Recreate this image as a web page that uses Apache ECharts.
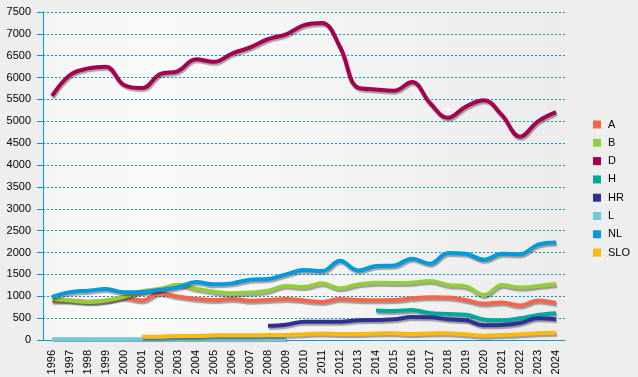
<!DOCTYPE html>
<html>
<head>
<meta charset="utf-8">
<script src="https://cdn.jsdelivr.net/npm/echarts@6/dist/echarts.min.js"></script>
<style>
  html, body { margin: 0; padding: 0; background: #eeeeee; overflow: hidden; }
  #chart { width: 638px; height: 400px; }
</style>
</head>
<body>
<div id="chart"></div>
<script>
var years = ['1996','1997','1998','1999','2000','2001','2002','2003','2004','2005','2006','2007','2008','2009','2010',
  '2011','2012','2013','2014','2015','2016','2017','2018','2019','2020','2021','2022','2023','2024']
var seriesNames = ['A', 'B', 'D', 'H', 'HR', 'L', 'NL', 'SLO']
var colors = ['#f5654a', '#93cd3e', '#a4004f', '#00a99a', '#2e3192', '#72c7dc', '#0099dc', '#fcb814']

var dataA = [900, 905, 876, 895, 960, 905, 1067, 995, 940, 914, 940, 900, 914, 935, 905,
  870, 935, 914, 910, 914, 952, 975, 970, 914, 830, 857, 790, 905, 845]
var dataB = [935, 905, 870, 905, 990, 1115, 1170, 1265, 1170, 1105, 1067, 1085, 1125, 1240, 1210,
  1295, 1181, 1272, 1311, 1305, 1311, 1349, 1257, 1225, 1029, 1257, 1200, 1235, 1280]
var dataD = [5580, 6060, 6210, 6250, 5830, 5760, 6080, 6150, 6420, 6360, 6550, 6690, 6880, 6990, 7200,
  7250, 6700, 5770, 5730, 5700, 5900, 5420, 5080, 5340, 5480, 5140, 4650, 5000, 5210]
var dataH = [null, null, null, null, null, null, null, null, null, null, null, null, null, null, null,
  null, null, null, 675, 665, 685, 615, 594, 575, 470, 450, 495, 571, 610]
var dataHR = [null, null, null, null, null, null, null, null, null, null, null, null, 325, 350, 420,
  419, 419, 450, 457, 472, 525, 518, 472, 450, 335, 343, 390, 495, 476]
var dataL = [15, 15, 15, 15, 15, 15, 15, 15, 15, 15, 15, 15, 15, 15, null,
  null, null, null, null, null, null, null, null, null, null, null, null, null, null]
var dataNL = [985, 1095, 1128, 1166, 1090, 1095, 1150, 1205, 1325, 1272, 1295, 1380, 1395, 1500, 1600,
  1575, 1810, 1590, 1692, 1705, 1860, 1745, 1990, 1970, 1835, 1970, 1962, 2180, 2230]
var dataSLO = [null, null, null, null, null, 76, 76, 91, 91, 107, 107, 107, 114, 114, 132,
  150, 137, 137, 150, 152, 137, 150, 152, 130, 99, 114, 130, 152, 168]
var yTicks = { min: 0, max: 7500, interval: 500 }

var allData = [dataA, dataB, dataD, dataH, dataHR, dataL, dataNL, dataSLO]
var axisBlue = '#0a97d9'
var font = 'Arial'

// container is a bit taller than the window so the rotated year labels never touch the edge
var chart = echarts.init(document.getElementById('chart'), null, { renderer: 'canvas' })

var series = seriesNames.map(function (name, i) {
  return {
    name: name,
    type: 'line',
    data: allData[i],
    smooth: 0.4,
    symbol: 'none',
    connectNulls: false,
    lineStyle: {
      width: 4,
      color: colors[i],
      shadowColor: 'rgba(0,0,0,0.35)',
      shadowBlur: 1,
      shadowOffsetX: 1,
      shadowOffsetY: 2
    },
    itemStyle: { color: colors[i] }
  }
})

var option = {
  backgroundColor: '#eeeeee',
  animation: false,
  color: colors,
  grid: {
    left: 43,
    right: 73,
    top: 12,
    bottom: 60,
    outerBoundsMode: 'none',
    show: true,
    borderWidth: 0,
    backgroundColor: {
      type: 'linear', x: 0, y: 0, x2: 1, y2: 0,
      colorStops: [
        { offset: 0, color: '#f5f5f5' },
        { offset: 0.2, color: '#fafafa' },
        { offset: 1, color: '#ececec' }
      ]
    }
  },
  legend: {
    orient: 'vertical',
    left: 588,
    top: 114,
    itemWidth: 8,
    itemHeight: 8,
    itemGap: 7.3,
    icon: 'rect',
    data: seriesNames,
    textStyle: { fontFamily: font, fontSize: 11, color: '#000', padding: [0, 0, 0, 2] }
  },
  xAxis: {
    type: 'category',
    data: years,
    boundaryGap: true,
    axisLine: { lineStyle: { color: axisBlue, width: 1 } },
    axisTick: { alignWithLabel: true, length: 6, lineStyle: { color: axisBlue } },
    axisLabel: {
      rotate: 90, margin: 10, interval: 0, hideOverlap: false,
      fontFamily: font, fontSize: 11, color: '#000'
    },
    splitLine: { show: false }
  },
  yAxis: {
    type: 'value',
    min: yTicks.min,
    max: yTicks.max,
    interval: yTicks.interval,
    axisLine: { show: true, lineStyle: { color: axisBlue, width: 1 } },
    axisTick: { show: true, length: 6, lineStyle: { color: axisBlue } },
    axisLabel: {
      margin: 12, color: '#000', fontFamily: font, fontSize: 11,
      formatter: function (v) { return String(v) }
    },
    splitLine: { show: true, lineStyle: { color: axisBlue, type: [2, 2], width: 1 } }
  },
  series: series
}

chart.setOption(option)
</script>
</body>
</html>
